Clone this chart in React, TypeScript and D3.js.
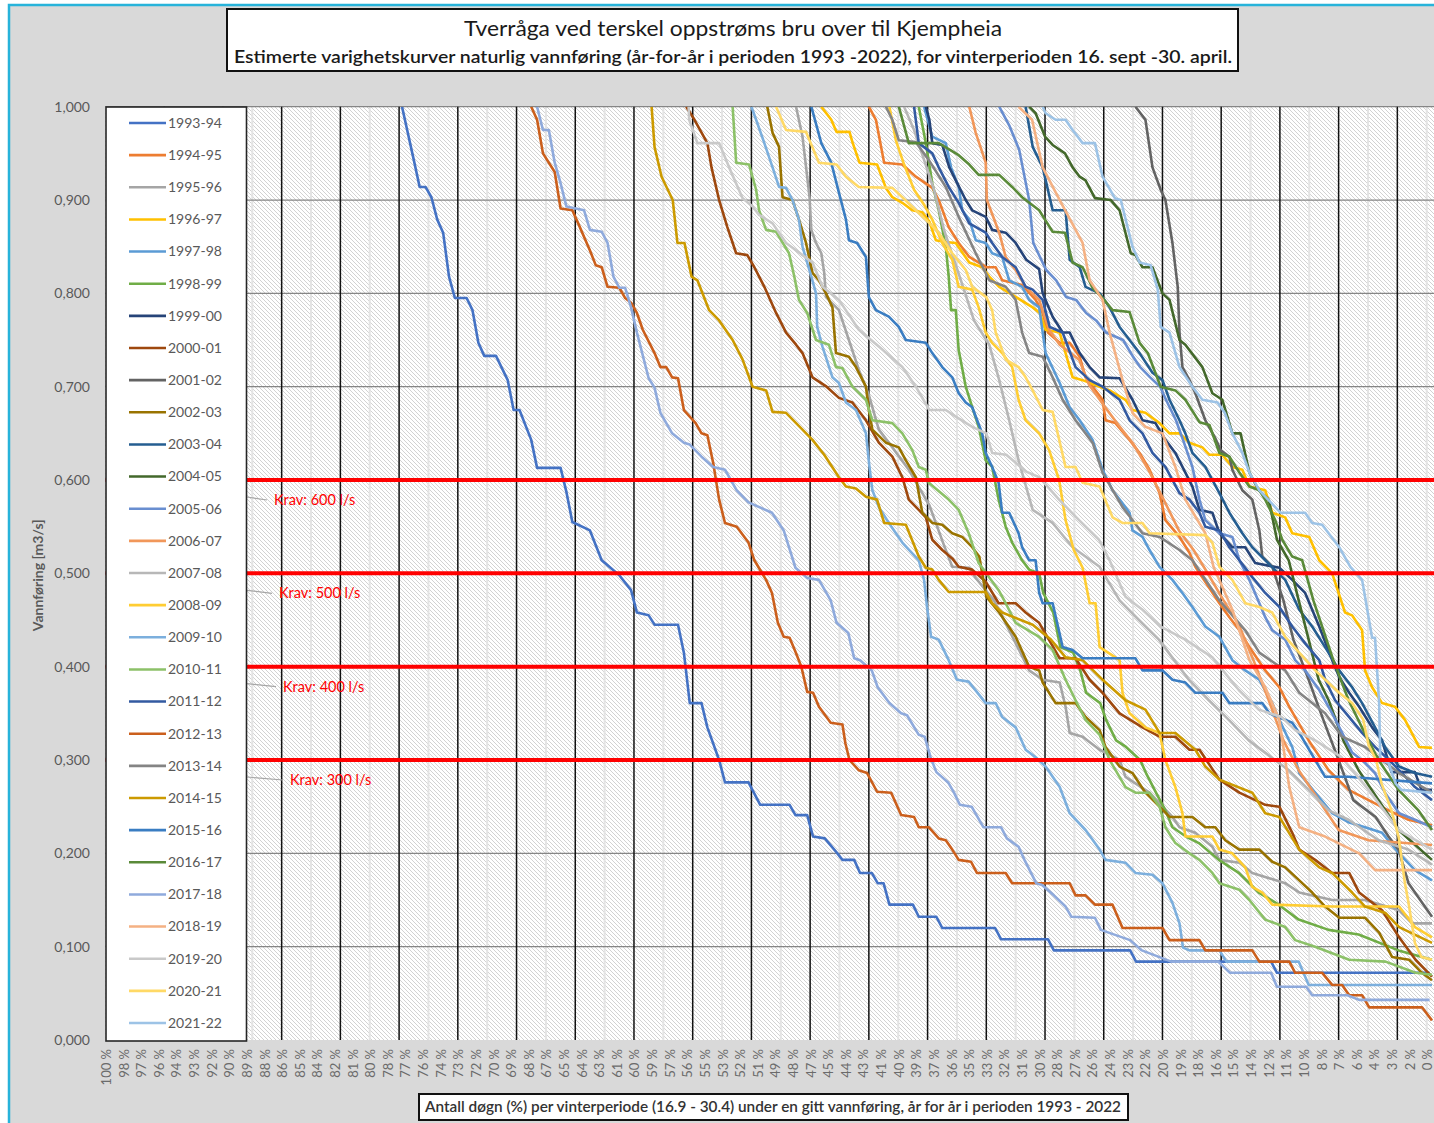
import React, { useEffect, useRef } from "react";
import * as d3 from "d3";

// winter season 16.9 - 30.4, one category per day
const DAYS = 227;

const seasons = [
  "1993-94", "1994-95", "1995-96", "1996-97", "1997-98", "1998-99", "1999-00",
  "2000-01", "2001-02", "2002-03", "2003-04", "2004-05", "2005-06", "2006-07",
  "2007-08", "2008-09", "2009-10", "2010-11", "2011-12", "2012-13", "2013-14",
  "2014-15", "2015-16", "2016-17", "2017-18", "2018-19", "2019-20", "2020-21",
  "2021-22"
];

const seasonColors = [
  "#4472C4", "#ED7D31", "#A5A5A5", "#FFC000", "#5B9BD5", "#70AD47", "#264478",
  "#9E480E", "#636363", "#997300", "#255E91", "#43682B", "#698ED0", "#F1975A",
  "#B7B7B7", "#FFCD33", "#7CAFDD", "#8CC168", "#335AA1", "#CB5F1C", "#848484",
  "#CC9A00", "#3A7DC2", "#5A8A39", "#8FAADC", "#F4B183", "#C9C9C9", "#FFD966",
  "#9DC3E6"
];

// [day index, m3/s] - vertices
const v1993_94 = [[50,1.0],[52,0.943],[53,0.914],[54,0.914],[55,0.903],[56,0.879],[57,0.865],[58,0.818],[59,0.795],[61,0.795],[62,0.782],[63,0.747],[64,0.733],[66,0.733],[68,0.707],[69,0.675],[70,0.675],[72,0.643],[73,0.613],[77,0.613],[78,0.587],[79,0.555],[82,0.546],[84,0.514],[87,0.498],[89,0.482],[90,0.458],[92,0.455],[93,0.445],[97,0.445],[98,0.415],[99,0.361],[101,0.361],[102,0.335],[104,0.3],[105,0.276],[109,0.276],[111,0.252],[116,0.252],[117,0.241],[119,0.241],[120,0.218],[122,0.216],[124,0.201],[125,0.193],[127,0.193],[128,0.179],[130,0.179],[131,0.168],[132,0.168],[133,0.145],[137,0.145],[138,0.132],[141,0.132],[142,0.12],[151,0.12],[152,0.108],[160,0.108],[161,0.096],[174,0.096],[175,0.084],[198,0.084],[199,0.072],[225,0.072]];
const v1994_95 = [[129.5,1.0],[130.7,0.986],[132.1,0.94],[135.2,0.938],[137.5,0.925],[140.3,0.913],[141.4,0.9],[143.1,0.871],[144.8,0.854],[146.6,0.839],[149.5,0.828],[151.1,0.828],[152.2,0.814],[155.6,0.809],[157.9,0.793],[159.1,0.779],[160,0.758],[162,0.747],[163.7,0.747],[165.4,0.732],[166.4,0.71],[168.1,0.696],[169.3,0.686],[169.8,0.664],[171.5,0.661],[173.9,0.643],[175.6,0.629],[177.3,0.611],[179,0.586],[180,0.557],[182.4,0.539],[184.1,0.522],[185.1,0.507],[189.2,0.468],[190.9,0.453],[192.6,0.439],[194.3,0.421],[197,0.396],[199.4,0.378],[201.1,0.357],[204.4,0.321],[207.8,0.289],[211.2,0.268],[214.6,0.257],[218,0.246],[221.4,0.236],[225.4,0.23]];
const v1995_96 = [[117.1,1.0],[118.2,0.968],[119.4,0.903],[119.7,0.868],[120.5,0.854],[121.4,0.843],[121.9,0.822],[122.2,0.796],[124.4,0.782],[126.1,0.75],[127.8,0.718],[129.5,0.691],[131.2,0.654],[133.5,0.635],[136.3,0.611],[139.8,0.573],[142.3,0.53],[143.7,0.507],[146.6,0.506],[147.7,0.495],[150.8,0.471],[154.2,0.429],[156.8,0.396],[159.1,0.386],[162,0.383],[163,0.357],[163.7,0.329],[165.9,0.325],[168.8,0.311],[172.2,0.3],[173.2,0.282],[177.3,0.265],[181.2,0.239],[182.4,0.228],[185.1,0.222],[188,0.207],[189.2,0.193],[192.6,0.19],[194.8,0.179],[200.4,0.168],[202.8,0.158],[208.4,0.15],[214,0.15],[219.8,0.139],[222,0.125],[225.4,0.125]];
const v1996_97 = [[121.4,1.0],[123.1,0.986],[124,0.973],[126.2,0.973],[126.7,0.962],[127.9,0.94],[130.9,0.938],[132.4,0.913],[133.5,0.903],[135.2,0.897],[136.9,0.889],[138.6,0.887],[139.8,0.877],[140.9,0.857],[142.6,0.855],[144.3,0.854],[146.6,0.833],[148.8,0.828],[150,0.818],[151.7,0.807],[157.4,0.785],[158.6,0.779],[159.6,0.761],[162,0.758],[163,0.736],[164.2,0.71],[165.9,0.707],[168.8,0.7],[170.5,0.696],[173.2,0.686],[174.4,0.675],[176.6,0.672],[179,0.661],[180.7,0.65],[182.4,0.65],[184.1,0.64],[186.3,0.635],[187.5,0.627],[189.7,0.627],[191.4,0.614],[193.1,0.611],[194.3,0.593],[197,0.589],[198.2,0.565],[200.4,0.56],[201.6,0.543],[204.5,0.539],[206.2,0.514],[208.4,0.5],[210.6,0.458],[211.8,0.455],[213.5,0.439],[214,0.396],[215.2,0.378],[216.9,0.361],[219.1,0.357],[220.8,0.343],[223.2,0.314],[225.4,0.313]];
const v1997_98 = [[138.9,1.0],[140.3,0.968],[142.6,0.961],[143.5,0.935],[144.8,0.914],[145.4,0.889],[146.6,0.879],[147.7,0.857],[149.4,0.854],[150.5,0.843],[152.2,0.839],[153.4,0.814],[155.6,0.807],[156.8,0.793],[158.5,0.785],[159.6,0.736],[162,0.704],[163.7,0.678],[165.4,0.664],[167.6,0.643],[169.3,0.611],[171,0.589],[172.7,0.575],[173.9,0.565],[174.4,0.546],[176.1,0.539],[177.3,0.525],[179,0.507],[181.2,0.493],[182.9,0.479],[184.6,0.464],[186.8,0.443],[189.2,0.432],[191.4,0.407],[193.6,0.396],[196,0.386],[198.2,0.361],[199.4,0.343],[201.6,0.314],[202.8,0.286],[205.5,0.265],[208.4,0.243],[211.3,0.233],[214,0.228],[216.9,0.222],[219.8,0.2],[222.5,0.182],[225.4,0.171]];
const v1998_99 = [[138,1.0],[139.2,0.961],[140.3,0.918],[141.4,0.889],[142.6,0.85],[143.1,0.818],[143.5,0.782],[144.3,0.782],[144.8,0.739],[146,0.7],[147.1,0.678],[148.2,0.657],[149.4,0.621],[150.5,0.614],[151.6,0.579],[152.8,0.55],[153.9,0.533],[155.6,0.514],[156.8,0.504],[158.5,0.5],[159.2,0.479],[160.9,0.458],[162.1,0.421],[164.3,0.415],[165.5,0.396],[166.5,0.372],[168.9,0.361],[169.9,0.343],[171.6,0.321],[173.3,0.314],[175.7,0.3],[176.7,0.286],[178.4,0.265],[180,0.246],[181.2,0.228],[183.5,0.218],[185.7,0.211],[189.1,0.193],[192.5,0.179],[195.9,0.158],[199.3,0.145],[202.7,0.129],[207.8,0.118],[212.9,0.113],[219.7,0.096],[225.4,0.086]];
const v1999_00 = [[139.2,1.0],[139.8,0.986],[140.3,0.961],[142,0.959],[143.2,0.935],[144.3,0.921],[146,0.9],[147.1,0.889],[149.4,0.882],[150.5,0.868],[152.8,0.865],[154.5,0.854],[156.3,0.836],[158.5,0.826],[159.1,0.8],[160.8,0.775],[162.5,0.758],[163.7,0.758],[165.4,0.736],[167.1,0.721],[168.8,0.71],[172.2,0.709],[174.4,0.686],[176.1,0.664],[178.3,0.661],[180,0.643],[181.7,0.629],[183.4,0.608],[184.6,0.593],[185.8,0.568],[188,0.565],[189.2,0.543],[191.4,0.528],[193.6,0.528],[195.3,0.511],[199.4,0.506],[201.6,0.493],[203.8,0.479],[206.2,0.443],[208.4,0.407],[209.6,0.389],[211.3,0.372],[213,0.357],[215.2,0.335],[216.9,0.321],[218.5,0.287],[222.5,0.287],[223.6,0.268],[225.4,0.268]];
const v2000_01 = [[98.4,1.0],[99.8,0.986],[102,0.961],[102.7,0.935],[104,0.9],[105.4,0.871],[106.9,0.843],[108.8,0.841],[110,0.828],[111.7,0.807],[113.7,0.779],[115.4,0.758],[117.1,0.745],[118.2,0.736],[119.9,0.71],[122.3,0.7],[124.4,0.688],[126.7,0.683],[129,0.664],[131.2,0.64],[133.5,0.625],[135.2,0.603],[136.3,0.579],[138,0.568],[139.2,0.56],[140.3,0.536],[142,0.525],[143.7,0.516],[144.8,0.507],[147.1,0.504],[149.4,0.491],[151.6,0.468],[154.5,0.468],[156.2,0.458],[158.5,0.447],[160.9,0.421],[162,0.409],[164.7,0.409],[167.1,0.386],[169.3,0.372],[172.2,0.35],[176.1,0.335],[179,0.325],[181.7,0.325],[184.1,0.311],[185.8,0.311],[189.2,0.279],[192.6,0.265],[197,0.252],[199.4,0.25],[201.6,0.222],[202.8,0.204],[205.5,0.193],[208.4,0.179],[211.3,0.179],[213,0.158],[216.9,0.139],[219.8,0.11],[222.6,0.086],[225.4,0.068]];
const v2001_02 = [[174.9,1.0],[176.6,0.986],[177.8,0.935],[179.2,0.911],[180,0.9],[181.2,0.854],[182.1,0.807],[182.4,0.758],[182.9,0.721],[184.1,0.707],[185.1,0.693],[186.8,0.664],[188.4,0.646],[189.4,0.632],[190.9,0.625],[191.4,0.611],[193.1,0.589],[194.8,0.579],[196,0.546],[196.5,0.518],[198.2,0.507],[200.1,0.471],[201.8,0.429],[204.4,0.386],[206.9,0.343],[209.5,0.3],[212,0.257],[215.8,0.239],[218,0.218],[219.7,0.204],[221.4,0.168],[225.4,0.132]];
const v2002_03 = [[112.2,1.0],[113.1,0.972],[114.2,0.957],[114.8,0.903],[116.5,0.9],[117.6,0.879],[118.8,0.854],[119.9,0.822],[121,0.814],[122.2,0.8],[123.3,0.785],[123.9,0.736],[126.1,0.732],[127.3,0.721],[129,0.7],[129.5,0.675],[130.1,0.654],[132.4,0.64],[134.6,0.635],[135.8,0.621],[137.5,0.603],[138.6,0.565],[140.3,0.554],[142,0.552],[143.7,0.543],[145.4,0.539],[147.1,0.528],[148.3,0.518],[149.5,0.475],[151.7,0.458],[154.5,0.432],[156.8,0.4],[158.5,0.396],[159.1,0.383],[161.3,0.361],[164.7,0.361],[166.4,0.346],[168.8,0.332],[169.8,0.314],[172.2,0.293],[174.4,0.286],[176.6,0.265],[179,0.25],[180.7,0.239],[184.6,0.239],[186.8,0.228],[188.5,0.228],[190.2,0.214],[192.6,0.204],[196,0.204],[198.2,0.191],[200.4,0.185],[202.8,0.171],[205,0.158],[207.2,0.143],[209.6,0.131],[214,0.131],[216.4,0.115],[218.6,0.089],[221.5,0.086],[223.7,0.072],[225.4,0.064]];
const v2003_04 = [[156.2,1.0],[157.4,0.957],[159.1,0.935],[160.8,0.889],[163,0.889],[163.7,0.836],[165.4,0.828],[166.4,0.807],[168.8,0.8],[170.5,0.785],[172.2,0.764],[173.9,0.75],[175.6,0.736],[177.8,0.715],[179.5,0.707],[180.7,0.686],[182.4,0.664],[183.4,0.65],[184.6,0.629],[186.8,0.614],[189.2,0.586],[190.9,0.565],[193.1,0.543],[194.8,0.528],[197,0.514],[200.4,0.493],[202.8,0.461],[205,0.443],[207.2,0.421],[209.6,0.396],[211.8,0.378],[213.5,0.361],[215.7,0.335],[217.4,0.314],[219.8,0.293],[222.5,0.286],[225.4,0.282]];
const v2004_05 = [[156.8,1.0],[157.9,0.993],[159.5,0.968],[160.8,0.959],[162.9,0.95],[164.2,0.935],[165.4,0.925],[166.4,0.921],[168,0.902],[170.7,0.9],[172.2,0.889],[174.1,0.843],[174.9,0.841],[176.1,0.828],[177.8,0.828],[179.5,0.8],[180.7,0.793],[182.4,0.75],[183.4,0.745],[186.3,0.721],[188,0.693],[189.7,0.686],[191.4,0.65],[192.8,0.65],[194.3,0.608],[195.9,0.589],[197.6,0.579],[199,0.536],[201,0.514],[202.7,0.471],[204.4,0.429],[206.1,0.386],[207.8,0.364],[210.3,0.321],[212.9,0.289],[216.3,0.257],[219.7,0.225],[225.4,0.193]];
const v2005_06 = [[151.7,1.0],[153.4,0.98],[155.1,0.954],[156.8,0.9],[157.5,0.854],[159.7,0.825],[161.4,0.814],[163.1,0.796],[164.8,0.793],[166.5,0.779],[168.2,0.771],[169.9,0.758],[172.8,0.75],[174.5,0.732],[175.7,0.721],[177.4,0.71],[179.1,0.7],[180.1,0.686],[181.8,0.664],[183,0.643],[184.6,0.614],[185.8,0.579],[186.8,0.557],[189.2,0.543],[191.4,0.539],[192.6,0.514],[194.3,0.493],[196,0.468],[197,0.453],[198.2,0.439],[200.4,0.429],[202.1,0.407],[203.8,0.396],[206.2,0.375],[208.4,0.35],[210.1,0.329],[211.8,0.308],[214,0.297],[215.7,0.286],[217.4,0.265],[219.8,0.243],[222.5,0.236],[225.4,0.228]];
const v2006_07 = [[146.6,1.0],[147.7,0.972],[149.4,0.94],[149.6,0.9],[151.7,0.865],[152.8,0.839],[154.5,0.825],[156.2,0.807],[158.5,0.793],[160.2,0.761],[162,0.745],[165.3,0.729],[167,0.702],[169.5,0.68],[172,0.659],[174.6,0.638],[177.1,0.611],[179.7,0.579],[182.3,0.546],[184.8,0.525],[187.4,0.498],[189.9,0.471],[192.5,0.445],[195,0.407],[197.6,0.364],[200.1,0.321],[202.7,0.289],[206.1,0.257],[209.5,0.225],[214.6,0.214],[225.4,0.209]];
const v2007_08 = [[135.5,1.0],[137.2,0.975],[138.9,0.943],[140.6,0.911],[142.3,0.868],[144,0.836],[145.7,0.804],[147.4,0.771],[150,0.745],[151.7,0.707],[153.4,0.664],[155,0.621],[157.4,0.568],[160.8,0.554],[164.2,0.528],[168.8,0.507],[172.2,0.471],[175.5,0.45],[178.9,0.429],[181.5,0.407],[184,0.386],[187.4,0.364],[190.8,0.343],[194.2,0.321],[197.6,0.305],[201,0.289],[204.4,0.268],[207.8,0.246],[211.2,0.236],[216.3,0.214],[221.4,0.204],[225.4,0.188]];
const v2008_09 = [[133,1.0],[134.1,0.964],[135.5,0.938],[137.2,0.911],[138.9,0.895],[140.3,0.879],[142,0.854],[143.7,0.836],[144.8,0.807],[147.1,0.804],[148.2,0.785],[149.4,0.758],[150.5,0.747],[152.2,0.736],[153.9,0.721],[155,0.686],[156.2,0.664],[158.5,0.65],[160.2,0.632],[161.9,0.6],[163,0.557],[164.4,0.525],[165.9,0.506],[167.1,0.468],[168.1,0.468],[168.8,0.421],[172.2,0.407],[172.7,0.372],[173.9,0.35],[176.6,0.335],[179,0.329],[180,0.3],[181.7,0.271],[182.9,0.243],[183.4,0.218],[188,0.218],[189.2,0.204],[191.4,0.2],[193.6,0.185],[194.8,0.164],[196.5,0.158],[198.2,0.145],[208.4,0.143],[219.8,0.143],[222.5,0.121],[225.4,0.11]];
const v2009_10 = [[109.5,1.0],[110.3,0.986],[111.7,0.961],[113.1,0.935],[114.2,0.914],[115.4,0.913],[116.5,0.9],[117.6,0.879],[118.2,0.85],[119.7,0.818],[120.5,0.8],[120.7,0.764],[121.6,0.743],[123.3,0.71],[124.4,0.704],[125.6,0.683],[127.3,0.675],[129,0.65],[129.6,0.614],[130.1,0.589],[131.2,0.571],[132.9,0.554],[135.2,0.533],[138,0.514],[138.9,0.493],[139.4,0.464],[140.1,0.432],[141.4,0.429],[143.1,0.407],[144.5,0.386],[146.5,0.384],[149.4,0.361],[151.1,0.361],[152.2,0.346],[154.5,0.335],[156.2,0.311],[157.9,0.303],[159.6,0.293],[162,0.271],[163.7,0.243],[166.4,0.225],[168.8,0.204],[169.8,0.193],[173.2,0.19],[174.9,0.179],[177.8,0.177],[179.5,0.168],[181.2,0.147],[182.4,0.125],[183,0.099],[184.1,0.096],[189.2,0.096],[190.4,0.084],[202.7,0.084],[204.4,0.059],[225.4,0.059]];
const v2010_11 = [[106.3,1.0],[106.9,0.94],[109.1,0.938],[110.3,0.911],[110.8,0.889],[112,0.868],[113.7,0.866],[115.9,0.843],[116.8,0.818],[117.6,0.793],[119,0.779],[120.5,0.75],[122.7,0.745],[123.9,0.721],[125,0.72],[126.7,0.7],[129,0.686],[130.1,0.664],[133.5,0.661],[135.2,0.65],[136.9,0.632],[138,0.614],[139.2,0.611],[139.7,0.597],[143.1,0.579],[144.8,0.568],[146.5,0.543],[148.2,0.511],[151.6,0.482],[152.8,0.468],[154.5,0.447],[158.5,0.432],[160.8,0.418],[163,0.386],[164.7,0.364],[166.4,0.343],[168.8,0.327],[170.5,0.3],[173.2,0.271],[174.9,0.265],[177.3,0.265],[179,0.25],[180,0.228],[181.7,0.211],[184.1,0.2],[185.8,0.193],[188,0.179],[189.2,0.168],[192.6,0.161],[194.3,0.15],[197,0.129],[200.4,0.121],[202.1,0.107],[205.5,0.1],[211.3,0.086],[217.5,0.084],[222.6,0.072],[225.4,0.07]];
const v2011_12 = [[137.2,1.0],[138,0.961],[140.3,0.95],[141.4,0.935],[143.1,0.914],[144.8,0.897],[146.6,0.875],[149.4,0.865],[150.5,0.854],[152.2,0.839],[154.5,0.828],[156.2,0.807],[157.4,0.804],[159.1,0.793],[160.3,0.764],[162.5,0.758],[164.7,0.721],[167.1,0.707],[169.3,0.7],[172.2,0.686],[173.9,0.664],[176.1,0.65],[177.8,0.629],[180,0.614],[182.4,0.586],[184.1,0.579],[185.8,0.565],[186.8,0.55],[189.2,0.546],[190.9,0.528],[192.6,0.514],[194.8,0.496],[197,0.479],[199.4,0.464],[201.6,0.443],[203.8,0.425],[206.2,0.407],[207.2,0.386],[208.9,0.364],[211.3,0.346],[213.5,0.329],[215.7,0.314],[218.1,0.3],[220.3,0.286],[222.5,0.271],[225.4,0.257]];
const v2012_13 = [[72,1.0],[73,0.986],[74,0.95],[76,0.93],[77,0.891],[79,0.889],[80,0.875],[82,0.846],[83,0.83],[84,0.828],[85,0.807],[87,0.806],[88,0.795],[89,0.79],[90,0.779],[91,0.761],[93,0.736],[94,0.721],[95,0.721],[96,0.71],[97,0.709],[98,0.675],[100,0.661],[101,0.65],[102,0.648],[103,0.618],[104,0.579],[105,0.554],[107,0.55],[109,0.533],[110,0.514],[112,0.493],[113,0.479],[114,0.447],[115,0.432],[116,0.431],[117,0.416],[118,0.4],[119,0.373],[120,0.372],[121,0.357],[123,0.34],[125,0.338],[125.5,0.318],[126.2,0.3],[127.8,0.289],[129.2,0.286],[130.9,0.266],[133.3,0.265],[135,0.241],[137.2,0.239],[138,0.228],[139.7,0.228],[141.4,0.216],[142.6,0.214],[143.7,0.204],[144.8,0.193],[146.9,0.191],[147.9,0.179],[152.8,0.179],[153.9,0.168],[163.7,0.168],[164.7,0.155],[166.4,0.155],[168,0.145],[171,0.145],[172.7,0.12],[179.5,0.12],[180.7,0.107],[185.8,0.107],[186.8,0.096],[194.8,0.096],[196,0.084],[201.1,0.084],[202.1,0.072],[206.7,0.072],[208.4,0.059],[210.1,0.059],[211.3,0.048],[213.5,0.048],[214.7,0.035],[223.7,0.035],[225.4,0.021]];
const v2013_14 = [[132.4,1.0],[133.5,0.986],[134.6,0.964],[137.5,0.962],[139.7,0.943],[142.6,0.914],[144.8,0.882],[147.7,0.843],[150,0.814],[152.8,0.807],[154.5,0.793],[155.6,0.758],[156.8,0.736],[159.1,0.732],[160.8,0.71],[162.5,0.686],[164.7,0.664],[167.6,0.64],[169.3,0.608],[172.7,0.571],[176.1,0.543],[179,0.539],[182.4,0.525],[184.6,0.514],[189.2,0.471],[193.6,0.439],[196,0.415],[200.4,0.396],[202.8,0.372],[207.2,0.35],[210.1,0.325],[214,0.314],[219.8,0.286],[225.4,0.265]];
const v2014_15 = [[92.5,1.0],[93,0.957],[94.2,0.925],[96.1,0.9],[96.9,0.854],[98.1,0.854],[99.3,0.818],[100.3,0.814],[102.3,0.782],[104,0.771],[106.3,0.75],[108,0.729],[109.7,0.7],[112,0.696],[113.1,0.673],[115.4,0.672],[119.9,0.643],[121.9,0.627],[124.4,0.603],[125.6,0.593],[127.3,0.591],[129,0.582],[130.9,0.579],[132.1,0.554],[135.8,0.552],[138,0.518],[139.2,0.506],[140.3,0.504],[141.4,0.493],[143.1,0.48],[149.4,0.48],[150.5,0.468],[152.2,0.458],[157.4,0.445],[160.5,0.429],[163,0.41],[165.9,0.407],[169.3,0.386],[173.2,0.364],[176.6,0.354],[179,0.329],[181.7,0.329],[185.1,0.311],[186.8,0.293],[189.2,0.279],[194.8,0.265],[197,0.243],[199.4,0.239],[202.8,0.204],[206.2,0.185],[208.4,0.179],[211.8,0.158],[214,0.143],[217.5,0.136],[219.8,0.121],[225.4,0.104]];
const v2015_16 = [[119.7,1.0],[121.4,0.961],[123.1,0.94],[124.4,0.908],[125.6,0.879],[126.1,0.857],[127.5,0.854],[129,0.839],[129.5,0.796],[130.7,0.782],[132.9,0.775],[134.6,0.764],[135.8,0.75],[139.2,0.747],[140.3,0.736],[142,0.721],[143.7,0.71],[144.8,0.693],[146,0.683],[147.1,0.678],[147.7,0.668],[148.8,0.65],[149.4,0.629],[150.5,0.614],[151.6,0.597],[152.2,0.565],[153.4,0.565],[155,0.543],[155.6,0.528],[156.8,0.514],[157.9,0.514],[158.5,0.479],[159.1,0.468],[160.8,0.468],[162.5,0.421],[164.2,0.418],[165.9,0.409],[174.9,0.409],[176.1,0.396],[179.5,0.396],[181.2,0.386],[183.4,0.383],[185.1,0.372],[189.7,0.372],[190.9,0.361],[196.5,0.361],[197.7,0.35],[201.6,0.34],[202.8,0.329],[207.2,0.282],[211.2,0.282],[225.4,0.275]];
const v2016_17 = [[134.6,1.0],[136.3,0.961],[141.4,0.961],[144.8,0.948],[146.6,0.938],[148.2,0.927],[151.7,0.927],[153.9,0.914],[155.6,0.903],[158.5,0.889],[159.5,0.879],[160.8,0.866],[162.9,0.865],[164.2,0.833],[165.9,0.828],[167.6,0.806],[169.3,0.795],[171,0.782],[173.9,0.78],[175.6,0.747],[177,0.736],[179.2,0.7],[181.7,0.696],[183.4,0.686],[185.8,0.662],[187.5,0.659],[189.2,0.629],[190.9,0.625],[192.6,0.608],[194.3,0.593],[196,0.589],[197,0.579],[198.7,0.557],[199.9,0.536],[201.6,0.518],[203.3,0.514],[205.2,0.471],[206.9,0.439],[208.6,0.407],[211.2,0.364],[213.7,0.332],[216.3,0.3],[219.7,0.268],[223.1,0.246],[225.4,0.225]];
const v2017_18 = [[73,1.0],[74,0.975],[75,0.975],[76,0.94],[77,0.918],[78,0.893],[81,0.889],[82,0.868],[84,0.866],[85,0.854],[86,0.818],[87,0.806],[88,0.806],[89,0.785],[90,0.758],[92,0.709],[93,0.699],[94,0.672],[96,0.65],[98,0.64],[99,0.638],[101,0.625],[103,0.614],[105,0.611],[107,0.589],[109,0.576],[113,0.565],[115,0.546],[117,0.506],[119,0.495],[121,0.493],[123,0.471],[124,0.447],[126,0.436],[127,0.409],[128,0.407],[130,0.396],[131,0.378],[133,0.361],[135,0.35],[136,0.348],[138,0.327],[139,0.325],[140,0.303],[141,0.287],[143,0.276],[144,0.265],[145,0.252],[147,0.25],[149,0.228],[152,0.228],[153,0.216],[155,0.207],[156,0.193],[158,0.168],[159,0.166],[161,0.155],[163,0.143],[164,0.132],[168,0.131],[169,0.118],[174,0.107],[176,0.096],[181,0.084],[189,0.084],[191,0.072],[198,0.072],[199,0.057],[204,0.057],[205,0.048],[211,0.048],[213,0.043],[225,0.043]];
const v2018_19 = [[155,1.0],[157.3,0.986],[159.1,0.935],[162,0.9],[165.9,0.854],[167.1,0.814],[169.3,0.793],[170.5,0.758],[172.7,0.707],[174.4,0.672],[176.6,0.657],[179.5,0.65],[181.7,0.614],[183.4,0.579],[186.8,0.543],[188.2,0.507],[191.4,0.461],[194.3,0.407],[197,0.378],[199.4,0.343],[201.1,0.271],[202.8,0.228],[207.2,0.218],[213,0.2],[215.7,0.182],[225.4,0.182]];
const v2019_20 = [[98.8,1.0],[98.9,0.986],[100.3,0.961],[104,0.961],[105.7,0.935],[108,0.902],[109.7,0.893],[110.8,0.884],[113.1,0.875],[115.4,0.854],[118.2,0.841],[119.9,0.833],[121.6,0.807],[124.4,0.793],[127.8,0.761],[131.2,0.743],[135.2,0.721],[137.5,0.7],[139.8,0.675],[142.6,0.675],[144.3,0.668],[147.1,0.657],[149.5,0.65],[150.5,0.629],[152.9,0.627],[154.6,0.618],[156.3,0.609],[158.5,0.603],[161.9,0.579],[165.3,0.557],[168.7,0.536],[170.5,0.514],[173.2,0.475],[176.1,0.461],[179.2,0.443],[183.4,0.429],[188,0.41],[192.5,0.375],[195.9,0.354],[199.8,0.346],[202.1,0.332],[205.5,0.321],[210,0.303],[214.6,0.268],[219.7,0.225],[225.4,0.204]];
const v2020_21 = [[113.7,1.0],[115.4,0.975],[118.8,0.973],[121,0.94],[124,0.938],[125.6,0.925],[127.8,0.914],[133.5,0.913],[135.2,0.903],[137.5,0.889],[139.2,0.879],[141.4,0.865],[143.7,0.843],[146,0.825],[147.1,0.807],[149.5,0.796],[150.5,0.782],[151.1,0.758],[152.8,0.729],[155,0.721],[156.2,0.71],[157.4,0.696],[159.1,0.675],[160.8,0.673],[163,0.614],[164.7,0.614],[165.9,0.597],[168.8,0.593],[171,0.56],[172.7,0.554],[176.1,0.554],[177.3,0.543],[186.8,0.541],[188,0.533],[189.2,0.507],[191.4,0.493],[193.6,0.468],[196,0.464],[198.2,0.458],[200.4,0.432],[202.8,0.415],[205.5,0.396],[209.6,0.372],[211.8,0.361],[213.7,0.343],[214.6,0.316],[215.9,0.3],[216.8,0.275],[218.5,0.246],[219.7,0.218],[220.8,0.168],[221.4,0.147],[222.5,0.104],[223.6,0.089],[225.4,0.086]];
const v2021_22 = [[159.1,1.0],[159.6,0.993],[161.3,0.986],[163,0.986],[164.2,0.975],[165.9,0.961],[168,0.961],[169.3,0.925],[171.4,0.902],[172.4,0.9],[174.4,0.85],[175.6,0.833],[177.5,0.83],[178.7,0.804],[179.2,0.764],[180.7,0.758],[182.4,0.721],[184.6,0.7],[186.3,0.686],[188.9,0.683],[190.1,0.672],[191.4,0.65],[193.1,0.629],[194.3,0.608],[196,0.589],[199.6,0.565],[203.8,0.565],[205,0.554],[206.7,0.552],[209.6,0.528],[211.5,0.507],[213.5,0.493],[215.2,0.431],[215.7,0.431],[216.4,0.361],[216.6,0.3],[218,0.297],[219.2,0.275],[220.2,0.268],[225.4,0.265]];

const seasonValues = [
  v1993_94, v1994_95, v1995_96, v1996_97, v1997_98, v1998_99, v1999_00,
  v2000_01, v2001_02, v2002_03, v2003_04, v2004_05, v2005_06, v2006_07,
  v2007_08, v2008_09, v2009_10, v2010_11, v2011_12, v2012_13, v2013_14,
  v2014_15, v2015_16, v2016_17, v2017_18, v2018_19, v2019_20, v2020_21,
  v2021_22
];

// category labels, one every third day
const pctTicks = [
  100, 98, 97, 96, 94, 93, 92, 90, 89, 88, 86, 85, 84, 82, 81, 80, 78, 77, 76,
  74, 73, 72, 70, 69, 68, 67, 65, 64, 63, 61, 60, 59, 57, 56, 55, 53, 52, 51,
  49, 48, 47, 45, 44, 43, 41, 40, 39, 37, 36, 35, 33, 32, 31, 30, 28, 27, 26,
  24, 23, 22, 20, 19, 18, 16, 15, 14, 12, 11, 10, 8, 7, 6, 4, 3, 2, 0
];

const yTicks = [0, 0.1, 0.2, 0.3, 0.4, 0.5, 0.6, 0.7, 0.8, 0.9, 1.0];

// required minimum flows
const kravValues = [0.6, 0.5, 0.4, 0.3];
const kravLabels = ["Krav: 600 l/s", "Krav: 500 l/s", "Krav: 400 l/s", "Krav: 300 l/s"];

const titleText = "Tverråga ved terskel oppstrøms bru over til Kjempheia";
const subtitleText =
  "Estimerte varighetskurver naturlig vannføring (år-for-år i perioden 1993 -2022), for vinterperioden 16. sept -30. april.";
const xTitle =
  "Antall døgn (%) per vinterperiode (16.9 - 30.4) under en gitt vannføring, år for år i perioden 1993 - 2022";
const yTitle = "Vannføring [m3/s]";

const FONT = "Lato, 'Open Sans', sans-serif";

function DurationChart() {
  const svgRef = useRef<SVGSVGElement>(null);

  useEffect(() => {
    const svg = d3.select(svgRef.current);
    svg.selectAll("*").remove();

    const left = 105.5;
    const step = 5.872;
    const top = 106.7;
    const bottom = 1040;
    const right = left + DAYS * step;

    const x = d3.scaleLinear().domain([-0.5, DAYS - 0.5]).range([left, right]);
    const y = d3.scaleLinear().domain([0, 1]).range([bottom, top]);

    const defs = svg.append("defs");
    const hatch = defs
      .append("pattern")
      .attr("id", "hatch")
      .attr("patternUnits", "userSpaceOnUse")
      .attr("width", 4)
      .attr("height", 4);
    hatch.append("rect").attr("width", 4).attr("height", 4).attr("fill", "#ffffff");
    hatch
      .append("path")
      .attr("d", "M-1,-1L5,5M3,-1L5,1M-1,3L1,5")
      .attr("stroke", "#d2d2d2")
      .attr("stroke-width", 1);
    defs
      .append("clipPath")
      .attr("id", "plotClip")
      .append("rect")
      .attr("x", left)
      .attr("y", top)
      .attr("width", right - left)
      .attr("height", bottom - top);

    // chart area
    svg.append("rect").attr("width", 1434).attr("height", 1123).attr("fill", "#ffffff");
    svg
      .append("rect")
      .attr("x", 9)
      .attr("y", 5)
      .attr("width", 1500)
      .attr("height", 1200)
      .attr("fill", "#d9d9d9")
      .attr("stroke", "#27b3da")
      .attr("stroke-width", 2.5);

    // plot area
    svg
      .append("rect")
      .attr("x", left)
      .attr("y", top)
      .attr("width", right - left)
      .attr("height", bottom - top)
      .attr("fill", "url(#hatch)");

    // minor vertical gridlines
    const minor = d3.range(4.5, DAYS, 10);
    svg
      .append("g")
      .selectAll("line")
      .data(minor)
      .join("line")
      .attr("x1", (d) => x(d))
      .attr("x2", (d) => x(d))
      .attr("y1", top)
      .attr("y2", bottom)
      .attr("stroke", "#e4e4e4")
      .attr("stroke-width", 2);

    // horizontal gridlines
    svg
      .append("g")
      .selectAll("line")
      .data(yTicks.filter((d) => d > 0))
      .join("line")
      .attr("x1", left)
      .attr("x2", right)
      .attr("y1", (d) => y(d))
      .attr("y2", (d) => y(d))
      .attr("stroke", "#858585")
      .attr("stroke-width", 1.3);

    // major vertical gridlines every ten days
    const major = d3.range(9.5, DAYS, 10);
    svg
      .append("g")
      .selectAll("line")
      .data(major)
      .join("line")
      .attr("x1", (d) => x(d))
      .attr("x2", (d) => x(d))
      .attr("y1", top)
      .attr("y2", bottom)
      .attr("stroke", "#111111")
      .attr("stroke-width", 1.5);

    // duration curves
    const line = d3
      .line<number[]>()
      .x((d) => x(d[0]))
      .y((d) => y(d[1]));
    svg
      .append("g")
      .attr("clip-path", "url(#plotClip)")
      .selectAll("path")
      .data(seasonValues)
      .join("path")
      .attr("d", (d) => line(d))
      .attr("fill", "none")
      .attr("stroke", (d, i) => seasonColors[i])
      .attr("stroke-width", 2.6)
      .attr("stroke-linejoin", "round");

    // requirement lines
    svg
      .append("g")
      .selectAll("line")
      .data(kravValues)
      .join("line")
      .attr("x1", left)
      .attr("x2", right)
      .attr("y1", (d) => y(d))
      .attr("y2", (d) => y(d))
      .attr("stroke", "#ff0000")
      .attr("stroke-width", 4);

    // requirement labels with leader lines
    const labelDx = [27, 32, 36, 43];
    const kg = svg.append("g");
    kg.selectAll("line")
      .data(kravValues)
      .join("line")
      .attr("x1", 247)
      .attr("y1", (d) => y(d) + 17)
      .attr("x2", (d, i) => 247 + labelDx[i] - 7)
      .attr("y2", (d) => y(d) + 20)
      .attr("stroke", "#a6a6a6")
      .attr("stroke-width", 1.2);
    kg.selectAll("text")
      .data(kravValues)
      .join("text")
      .attr("x", (d, i) => 247 + labelDx[i])
      .attr("y", (d) => y(d) + 20)
      .attr("dy", "0.35em")
      .attr("font-family", FONT)
      .attr("font-size", 14.5)
      .attr("fill", "#ff0000")
      .text((d, i) => kravLabels[i]);

    // y axis labels
    svg
      .append("g")
      .selectAll("text")
      .data(yTicks)
      .join("text")
      .attr("x", 90)
      .attr("y", (d) => y(d))
      .attr("dy", "0.35em")
      .attr("text-anchor", "end")
      .attr("font-family", FONT)
      .attr("font-size", 14)
      .attr("fill", "#595959")
      .text((d) => d3.format(".3f")(d).replace(".", ","));

    svg
      .append("text")
      .attr("transform", `translate(38,${(top + bottom) / 2 + 2}) rotate(-90)`)
      .attr("text-anchor", "middle")
      .attr("dy", "0.35em")
      .attr("font-family", FONT)
      .attr("font-size", 14)
      .attr("font-weight", "bold")
      .attr("fill", "#595959")
      .text(yTitle);

    // x axis labels
    svg
      .append("g")
      .selectAll("text")
      .data(pctTicks)
      .join("text")
      .attr("transform", (d, i) => `translate(${x(i * 3) - 2},1049) rotate(-90)`)
      .attr("text-anchor", "end")
      .attr("dy", "0.35em")
      .attr("font-family", FONT)
      .attr("font-size", 13)
      .attr("fill", "#6b6b6b")
      .text((d) => `${d} %`);

    // legend
    const lg = svg.append("g");
    lg.append("rect")
      .attr("x", 106)
      .attr("y", 107)
      .attr("width", 140.5)
      .attr("height", 934)
      .attr("fill", "#ffffff")
      .attr("stroke", "#262626")
      .attr("stroke-width", 1.6);
    const ly = d3.scalePoint().domain(seasons).range([123, 1023]);
    const item = lg
      .selectAll("g.item")
      .data(seasons)
      .join("g")
      .attr("class", "item")
      .attr("transform", (d) => `translate(0,${ly(d)})`);
    item
      .append("line")
      .attr("x1", 129)
      .attr("x2", 166)
      .attr("stroke", (d, i) => seasonColors[i])
      .attr("stroke-width", 2.6);
    item
      .append("text")
      .attr("x", 168)
      .attr("dy", "0.35em")
      .attr("font-family", FONT)
      .attr("font-size", 14)
      .attr("fill", "#595959")
      .text((d) => d);

    // title box
    svg
      .append("rect")
      .attr("x", 227)
      .attr("y", 9)
      .attr("width", 1011)
      .attr("height", 62)
      .attr("fill", "#ffffff")
      .attr("stroke", "#111111")
      .attr("stroke-width", 2);
    svg
      .append("text")
      .attr("x", 733)
      .attr("y", 36)
      .attr("text-anchor", "middle")
      .attr("font-family", FONT)
      .attr("font-size", 21)
      .attr("fill", "#1a1a1a")
      .attr("textLength", 538)
      .attr("lengthAdjust", "spacingAndGlyphs")
      .text(titleText);
    svg
      .append("text")
      .attr("x", 733)
      .attr("y", 63)
      .attr("text-anchor", "middle")
      .attr("font-family", FONT)
      .attr("font-size", 17)
      .attr("font-weight", 600)
      .attr("fill", "#1a1a1a")
      .attr("textLength", 998)
      .attr("lengthAdjust", "spacingAndGlyphs")
      .text(subtitleText);

    // x title box
    svg
      .append("rect")
      .attr("x", 419)
      .attr("y", 1094)
      .attr("width", 709)
      .attr("height", 26)
      .attr("fill", "#ffffff")
      .attr("stroke", "#111111")
      .attr("stroke-width", 2);
    svg
      .append("text")
      .attr("x", 773)
      .attr("y", 1107)
      .attr("dy", "0.35em")
      .attr("text-anchor", "middle")
      .attr("font-family", FONT)
      .attr("font-size", 15)
      .attr("font-weight", 600)
      .attr("fill", "#333333")
      .attr("textLength", 696)
      .attr("lengthAdjust", "spacingAndGlyphs")
      .text(xTitle);
  }, []);

  return (
    <svg
      ref={svgRef}
      width={1434}
      height={1123}
      style={{ position: "absolute", left: 0, top: 0, display: "block" }}
    />
  );
}

export default function App() {
  return <DurationChart />;
}
